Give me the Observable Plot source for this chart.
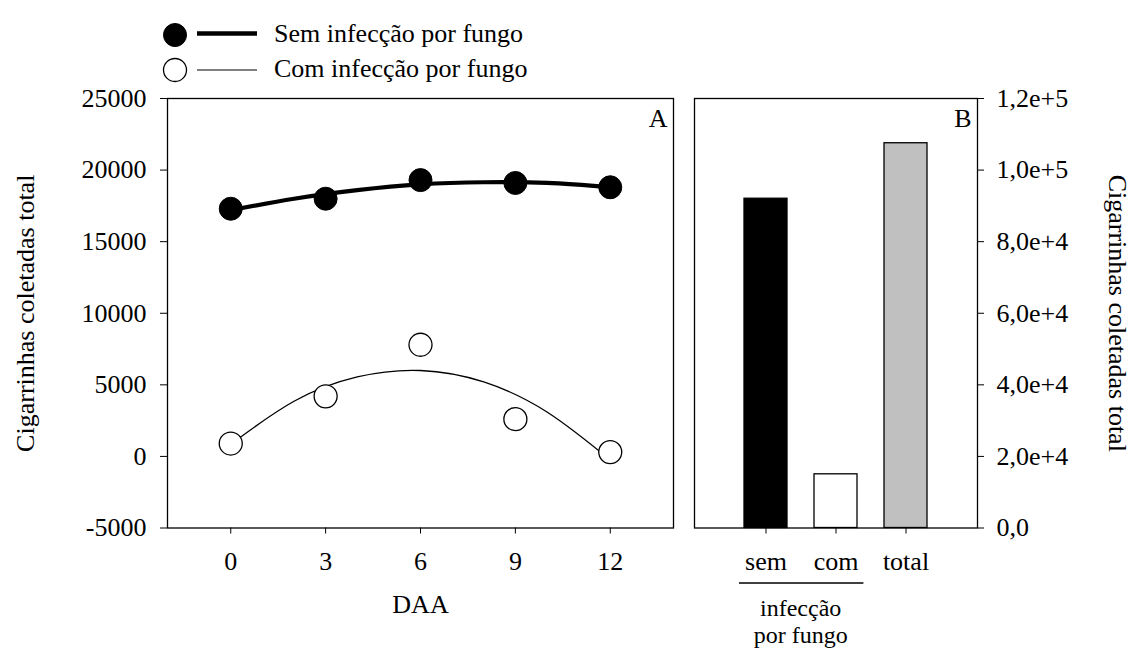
<!DOCTYPE html>
<html><head><meta charset="utf-8">
<script src="https://cdn.jsdelivr.net/npm/d3@7"></script>
<script src="https://cdn.jsdelivr.net/npm/@observablehq/plot@0.6"></script>
<style>
body{margin:0;background:#fff;}
#wrap{position:relative;width:1132px;height:651px;overflow:hidden;background:#fff;font-family:"Liberation Serif","Times New Roman",serif;}
#wrap > *{position:absolute;top:0;}
</style></head><body><div id="wrap"></div>
<script>
// ---- data ----
const days = [0, 3, 6, 9, 12];
const semValues = [17300, 18000, 19300, 19100, 18800];
const comValues = [900, 4200, 7800, 2600, 300];
const curveDays = [0, 2, 4, 6, 8, 10, 12];
const semCurve = [17200, 18000, 18600, 19000, 19150, 19100, 18800];
const comCurve = [850, 3850, 5550, 6000, 5200, 3100, -250];
const yTicksA = [-5000, 0, 5000, 10000, 15000, 20000, 25000];
const yTickLabelsA = ["-5000", "0", "5000", "10000", "15000", "20000", "25000"];
const xTicksA = [0, 3, 6, 9, 12];
const barCategories = ["sem", "com", "total"];
const barValues = [92000, 15000, 107500];
const yTicksB = [0, 20000, 40000, 60000, 80000, 100000, 120000];
const yTickLabelsB = ["0,0", "2,0e+4", "4,0e+4", "6,0e+4", "8,0e+4", "1,0e+5", "1,2e+5"];
const legendLabels = ["Sem infecção por fungo", "Com infecção por fungo"];
const axisTitleY = "Cigarrinhas coletadas total";
const axisTitleX = "DAA";
const groupLabel = ["infecção", "por fungo"];
const panelLabels = ["A", "B"];

// ---- styles ----
const barFills = {sem: "black", com: "white", total: "#c0c0c0"};
const FONT = '"Liberation Serif","Times New Roman",serif';
const H = 651, TOP = 98, BOTTOM = 527.5;
const baseStyle = {fontFamily: FONT, fontSize: "26px", background: "transparent", color: "black", overflow: "visible"};

const semPts = days.map((d, i) => ({d, v: semValues[i]}));
const comPts = days.map((d, i) => ({d, v: comValues[i]}));
const semLine = curveDays.map((d, i) => ({d, v: semCurve[i]}));
const comLine = curveDays.map((d, i) => ({d, v: comCurve[i]}));
const bars = barCategories.map((c, i) => ({cat: c, v: barValues[i]}));

const plotA = Plot.plot({
  width: 690, height: H,
  marginLeft: 167, marginRight: 17, marginTop: TOP, marginBottom: H - BOTTOM,
  style: baseStyle,
  x: {domain: [-2, 14]},
  y: {domain: [-5000, 25000]},
  marks: [
    Plot.line(semLine, {x: "d", y: "v", curve: "natural", stroke: "black", strokeWidth: 4.2}),
    Plot.line(comLine, {x: "d", y: "v", curve: "natural", stroke: "black", strokeWidth: 1.3}),
    Plot.dot(semPts, {x: "d", y: "v", r: 11.5, fill: "black", stroke: "black", strokeWidth: 1}),
    Plot.dot(comPts, {x: "d", y: "v", r: 11.5, fill: "white", stroke: "black", strokeWidth: 1.3}),
    Plot.frame({stroke: "black", strokeWidth: 1.3}),
    Plot.axisY({ticks: yTicksA, tickFormat: d => yTickLabelsA[yTicksA.indexOf(d)], tickSize: 7, tickPadding: 14, label: null}),
    Plot.axisX({ticks: xTicksA, tickFormat: d => String(d), tickSize: 6, tickPadding: 18, label: null}),
    Plot.text([axisTitleY], {text: d => d, frameAnchor: "left", textAnchor: "middle", rotate: -90, dx: -142}),
    Plot.text([axisTitleX], {text: d => d, frameAnchor: "bottom", lineAnchor: "top", dy: 67}),
    Plot.text([panelLabels[0]], {text: d => d, frameAnchor: "top-right", textAnchor: "end", lineAnchor: "top", dx: -6, dy: 10.5})
  ]
});

function groupMark(index, scales, values, dim) {
  const x = scales.x;
  const s = x("sem"), c = x("com");
  const bw = (c - s) * (1 - 0.38);
  const yb = dim.height - dim.marginBottom;
  const g = d3.create("svg:g");
  g.append("line").attr("x1", s - 5).attr("x2", c + bw + 6)
    .attr("y1", yb + 55.5).attr("y2", yb + 55.5)
    .attr("stroke", "black").attr("stroke-width", 1.3);
  const cx = (s + c + bw) / 2;
  groupLabel.forEach((s2, i) => {
    g.append("text").attr("x", cx).attr("y", yb + 88 + i * 27)
      .attr("text-anchor", "middle").attr("fill", "black")
      .attr("font-size", "24px").text(s2);
  });
  return g.node();
}

const plotB = Plot.plot({
  width: 442, height: H,
  marginLeft: 4, marginRight: 155, marginTop: TOP, marginBottom: H - BOTTOM,
  style: baseStyle,
  x: {domain: barCategories, paddingInner: 0.38, paddingOuter: 0.7},
  y: {domain: [0, 120000]},
  color: {type: "identity"},
  marks: [
    Plot.barY(bars, {x: "cat", y: "v", fill: d => barFills[d.cat], stroke: "black", strokeWidth: 1.3}),
    Plot.frame({stroke: "black", strokeWidth: 1.3}),
    Plot.axisY({anchor: "right", ticks: yTicksB, tickFormat: d => yTickLabelsB[yTicksB.indexOf(d)], tickSize: 6, tickPadding: 13, label: null}),
    Plot.axisX({tickSize: 6, tickPadding: 18, label: null}),
    Plot.text([axisTitleY], {text: d => d, frameAnchor: "right", textAnchor: "middle", rotate: 90, dx: 140}),
    Plot.text([panelLabels[1]], {text: d => d, frameAnchor: "top-right", textAnchor: "end", lineAnchor: "top", dx: -6, dy: 10.5}),
    groupMark
  ]
});

// ---- legend ----
const legend = d3.create("svg").attr("width", 600).attr("height", 90)
  .style("font-family", FONT).style("font-size", "26px");
const rows = [
  {y: 35, ly: 33.5, fill: "black", sw: 4.3, cw: 1},
  {y: 70, ly: 70, fill: "white", sw: 1.2, cw: 1.3}
];
rows.forEach((r, i) => {
  legend.append("circle").attr("cx", 175).attr("cy", r.y).attr("r", 11.5)
    .attr("fill", r.fill).attr("stroke", "black").attr("stroke-width", r.cw);
  legend.append("line").attr("x1", 197).attr("x2", 257).attr("y1", r.ly).attr("y2", r.ly)
    .attr("stroke", "black").attr("stroke-width", r.sw);
  legend.append("text").attr("x", 274).attr("y", r.y + 6.5).attr("fill", "black").text(legendLabels[i]);
});

const wrap = document.getElementById("wrap");
plotA.style.left = "0px";
plotB.style.left = "690px";
wrap.appendChild(plotA);
wrap.appendChild(plotB);
const lg = legend.node();
lg.style.left = "0px";
wrap.appendChild(lg);
</script></body></html>
